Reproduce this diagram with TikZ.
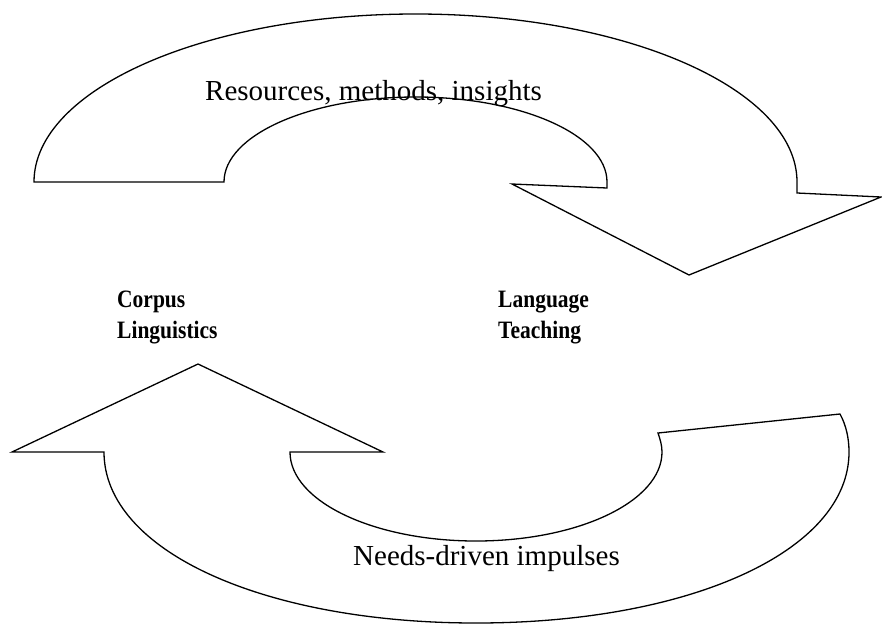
\documentclass[tikz,border=0pt]{standalone}
\usepackage{fontspec}
\setmainfont{Liberation Serif}
% condensed bold for the two pole labels
\newcommand{\narrowbold}[1]{\scalebox{0.86}[1]{#1}}
\begin{document}
\begin{tikzpicture}[x=1pt,y=-1pt,
  band/.style={draw=black,line width=1.3pt,line join=miter},
  caption/.style={anchor=base west,inner sep=0pt,font=\fontsize{29}{32}\selectfont},
  pole/.style={anchor=base west,inner sep=0pt,font=\fontsize{25}{28}\selectfont\bfseries}]
\useasboundingbox (0,0) rectangle (882,624);

% upper curved arrow, pointing down to the right
\draw[band] (34,182)
  .. controls (34,89.2) and (204.8,14) .. (415.5,14)
  .. controls (626.2,14) and (797,89.2) .. (797,182)
  -- (797,193) -- (881,197) -- (689,275) -- (512,184) -- (607,188) -- (607,182)
  .. controls (607,135.1) and (521.3,97) .. (415.5,97)
  .. controls (309.7,97) and (224,135.1) .. (224,182)
  -- cycle;

% lower curved arrow, pointing up to the left
\draw[band] (840,414)
  .. controls (846,425) and (849,438) .. (849,452)
  .. controls (849,551) and (690,623) .. (476,623)
  .. controls (264,623) and (104,551) .. (104,452)
  -- (12,452) -- (198,364) -- (383,452) -- (290,452)
  .. controls (290,501.2) and (373.3,541) .. (476,541)
  .. controls (578.7,541) and (662,501.2) .. (662,452)
  .. controls (662,445) and (660,439) .. (658,433)
  -- cycle;

% labels
\node[caption] (res) at (205,100) {Resources, methods, insights};
\node[caption] (needs) at (353,565) {Needs-driven impulses};
\node[pole] (corpus) at (117,307) {\narrowbold{Corpus}};
\node[pole] (ling) at (117,338) {\narrowbold{Linguistics}};
\node[pole] (lang) at (498,307) {\narrowbold{Language}};
\node[pole] (teach) at (498,338) {\narrowbold{Teaching}};
\end{tikzpicture}
\end{document}
